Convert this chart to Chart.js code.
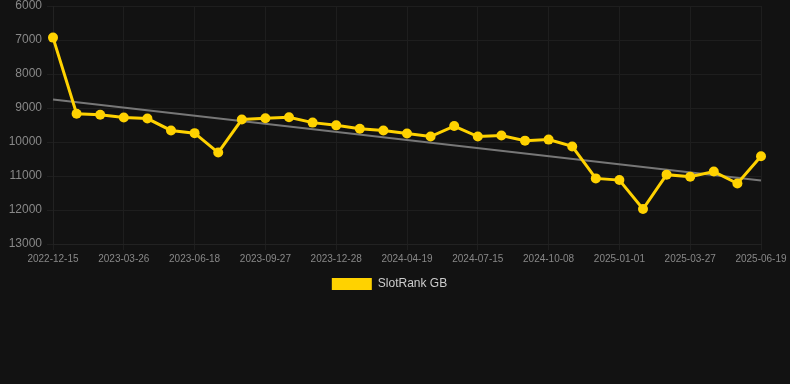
<!DOCTYPE html>
<html><head><meta charset="utf-8">
<script src="https://cdn.jsdelivr.net/npm/chart.js@4"></script>
<style>html,body{margin:0;padding:0;background:#121212;}#wrap{width:790px;height:384px;position:relative;}</style>
</head><body><div id="wrap"><canvas id="c"></canvas></div>
<script>
const categories = ["2022-12-15","2023-01-17","2023-02-20","2023-03-26","2023-04-23","2023-05-21","2023-06-18","2023-07-21","2023-08-24","2023-09-27","2023-10-28","2023-11-28","2023-12-28","2024-02-05","2024-03-14","2024-04-19","2024-05-17","2024-06-14","2024-07-15","2024-08-13","2024-09-10","2024-10-08","2024-11-04","2024-12-03","2025-01-01","2025-01-30","2025-02-27","2025-03-27","2025-04-24","2025-05-22","2025-06-19"];
const rankValues = [6930,9170,9200,9280,9310,9660,9740,10310,9340,9300,9270,9430,9510,9610,9660,9750,9840,9530,9840,9810,9960,9930,10130,11070,11120,11970,10960,11020,10870,11220,10420];
const trendValues = [8750,null,null,null,null,null,null,null,null,null,null,null,null,null,null,null,null,null,null,null,null,null,null,null,null,null,null,null,null,null,11130];
const yTicks = [6000,7000,8000,9000,10000,11000,12000,13000];
const seriesName = "SlotRank GB";

new Chart(document.getElementById('c'), {
  type: 'line',
  data: {
    labels: categories,
    datasets: [
      {label: seriesName, data: rankValues, borderColor: '#FFD200', backgroundColor: '#FFD200',
       borderWidth: 3, pointRadius: 5, pointHoverRadius: 5, pointBackgroundColor: '#FFD200', pointBorderWidth: 0, tension: 0},
      {label: 'trend', data: trendValues, spanGaps: true, borderColor: '#777777', borderWidth: 2,
       pointRadius: 0, tension: 0}
    ]
  },
  options: {
    responsive: true, maintainAspectRatio: false, animation: false,
    layout: {padding: {left: 0, right: 11, top: 0, bottom: 84}},
    plugins: {
      legend: {position: 'bottom',
        labels: {color: '#cccccc', font: {family: 'Liberation Sans, Arial', size: 12}, boxWidth: 40, boxHeight: 12,
          generateLabels: (chart) => [{text: seriesName, fillStyle: '#FFD200', strokeStyle: '#FFD200', lineWidth: 0,
            fontColor: '#cccccc', hidden: false, datasetIndex: 0}]}},
      tooltip: {enabled: false}
    },
    scales: {
      x: {
        afterFit: (s) => { s.paddingRight = 29; },
        grid: {color: '#1e1e1e', tickLength: 6},
        border: {color: '#222'},
        ticks: {color: '#888888', font: {family: 'Liberation Sans, Arial', size: 10}, autoSkip: false, maxRotation: 0,
          callback: function(v, i){ return i % 3 === 0 ? categories[i] : null; }}
      },
      y: {
        reverse: true, min: 6000, max: 13000,
        afterBuildTicks: (axis) => { axis.ticks = yTicks.map(v => ({value: v})); },
        afterFit: (s) => { s.width = 53; s.paddingTop = 6; s.paddingBottom = 0; },
        grid: {color: '#1e1e1e', tickLength: 6},
        border: {color: '#222'},
        ticks: {color: '#888888', font: {family: 'Liberation Sans, Arial', size: 12}, padding: 5,
          callback: (v) => String(v)}
      }
    }
  }
});
</script></body></html>
